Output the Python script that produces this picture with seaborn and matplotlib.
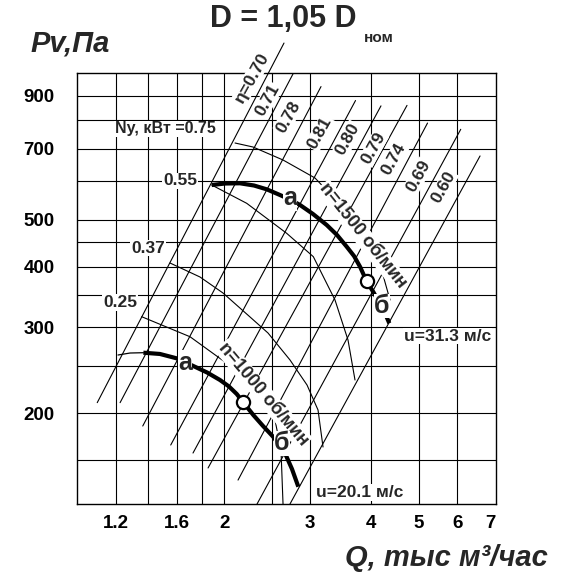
import matplotlib
matplotlib.use("Agg")
import matplotlib.pyplot as plt
from matplotlib.ticker import NullLocator, FixedLocator, FixedFormatter
import seaborn as sns

# ---------------- data ----------------
# fan curve n = 1500 rpm  (Q, thousand m3/h ; Pv, Pa)
q_1500 = [1.886, 2.008, 2.155, 2.302, 2.444, 2.602, 2.727, 2.859, 3.039, 3.242, 3.403,
          3.562, 3.687, 3.793, 3.914, 4.038, 4.167, 4.267, 4.354]
p_1500 = [589.1, 593.3, 593.9, 587.7, 577.2, 561.8, 550.0, 535.9, 513.5, 487.4, 464.9,
          439.8, 420.8, 400.0, 373.0, 354.9, 335.3, 320.8, 306.0]
# fan curve n = 1000 rpm (thin unstable start, then working part)
q_1000_thin = [1.213, 1.284, 1.367]
p_1000_thin = [263.3, 265.8, 266.2]
q_1000 = [1.367, 1.478, 1.599, 1.730, 1.845, 1.961, 2.046, 2.122, 2.186, 2.294, 2.402,
          2.521, 2.602, 2.664, 2.753, 2.836]
p_1000 = [266.2, 264.6, 259.2, 249.9, 242.4, 233.9, 226.8, 218.9, 210.7, 198.2, 188.1,
          178.6, 171.1, 165.3, 153.4, 141.1]
# optimum points (circles)
opt_q = [3.914, 2.186]
opt_p = [373.0, 210.7]

# efficiency rays: top end and bottom end
eta_labels = ["η=0.70", "0.71", "0.78", "0.81", "0.80", "0.79", "0.74", "0.69", "0.60"]
eta_q_top = [2.651, 2.766, 3.156, 3.713, 4.186, 4.732, 5.212, 6.095, 6.675]
eta_p_top = [1154, 997, 939, 879, 857, 859, 790, 767, 676]
eta_q_bot = [1.100, 1.225, 1.363, 1.555, 1.727, 1.854, 2.135, 2.335, 2.727]
eta_p_bot = [210.1, 210.1, 188.1, 171.9, 165.5, 154.2, 145.6, 130.0, 130.0]
eta_lab_q = [2.277, 2.451, 2.706, 3.141, 3.584, 4.038, 4.451, 4.991, 5.615]
eta_lab_p = [976.6, 881.2, 814.1, 753.7, 732.6, 700.9, 665.4, 614.8, 582.7]

# power arcs Ny, kW
ny_labels = ["Ny, кВт =0.75", "0.55", "0.37", "0.25"]
ny_lab_q = [1.514, 1.625, 1.397, 1.225]
ny_lab_p = [768.1, 600.4, 437.1, 337.3]
ny_q = [
    [2.105, 2.291, 2.639, 3.068, 3.618, 3.975, 4.226, 4.368],
    [1.886, 2.224, 2.685, 3.044, 3.371, 3.584, 3.704],
    [1.550, 1.785, 1.989, 2.259, 2.459, 2.727, 2.955, 3.112, 3.186],
    [1.356, 1.703, 2.024, 2.368, 2.541, 2.614, 2.639],
]
ny_p = [
    [718.8, 705.3, 663.2, 609.0, 511.1, 447.6, 384.6, 341.7],
    [589.1, 540.2, 468.6, 419.5, 341.7, 282.7, 233.9],
    [407.1, 381.0, 353.2, 315.3, 292.2, 257.2, 228.4, 202.9, 170.3],
    [315.7, 287.1, 253.2, 216.1, 193.5, 167.9, 130.0],
]

# axes ticks / grid
x_ticks = [1.2, 1.6, 2, 3, 4, 5, 6, 7]
x_tick_labels = ["1.2", "1.6", "2", "3", "4", "5", "6", "7"]
y_ticks = [200, 300, 400, 500, 700, 900]
y_tick_labels = ["200", "300", "400", "500", "700", "900"]
x_grid = [1.2, 1.4, 1.6, 1.8, 2, 2.5, 3, 4, 5, 6]
y_grid = [160, 200, 250, 300, 350, 400, 450, 500, 600, 700, 800, 900]

# text annotations
curve_labels = ["n=1500 об/мин", "n=1000 об/мин"]
curve_lab_q = [3.836, 2.406]
curve_lab_p = [462.9, 218.7]
curve_lab_rot = [-51.4, -49.7]
ab_labels = ["а", "б", "а", "б"]
ab_q = [2.727, 4.20, 1.663, 2.623]
ab_p = [553.1, 332.1, 253.9, 173.3]
u_labels = ["u=31.3 м/с", "u=20.1 м/с"]
u_q = [5.727, 3.793]
u_p = [288.1, 137.1]

# ---------------- drawing ----------------
sns.set_theme(style="white")
plt.rcParams["font.family"] = ["Liberation Sans", "DejaVu Sans"]

fig = plt.figure(figsize=(5.72, 5.81), dpi=100)
ax = fig.add_axes([77 / 572, 77 / 581, 419 / 572, 430.7 / 581])
ax.set_xscale("log")
ax.set_yscale("log")
ax.set_xlim(1.0, 7.196)
ax.set_ylim(130, 1000)

for v in x_grid:
    ax.axvline(v, color="black", lw=0.8, zorder=1)
for v in y_grid:
    ax.axhline(v, color="black", lw=0.8, zorder=1)

# efficiency rays
for qt, pt, qb, pb in zip(eta_q_top, eta_p_top, eta_q_bot, eta_p_bot):
    sns.lineplot(x=[qb, qt], y=[pb, pt], ax=ax, color="black", lw=0.8,
                 estimator=None, sort=False, clip_on=False, zorder=2)

# power arcs
for qs, ps in zip(ny_q, ny_p):
    sns.lineplot(x=qs, y=ps, ax=ax, color="black", lw=0.8,
                 estimator=None, sort=False, zorder=2)

# fan curves
sns.lineplot(x=q_1500, y=p_1500, ax=ax, color="black", lw=3.0,
             estimator=None, sort=False, zorder=4, solid_capstyle="butt",
             solid_joinstyle="round")
sns.lineplot(x=q_1000_thin, y=p_1000_thin, ax=ax, color="black", lw=0.9,
             estimator=None, sort=False, zorder=4)
sns.lineplot(x=q_1000, y=p_1000, ax=ax, color="black", lw=3.0,
             estimator=None, sort=False, zorder=4, solid_capstyle="butt",
             solid_joinstyle="round")
ax.plot(opt_q, opt_p, "o", ms=9.5, mfc="white", mec="black", mew=1.6, zorder=6)

wb = dict(facecolor="white", edgecolor="none", pad=0.6)

for s, q, p in zip(eta_labels, eta_lab_q, eta_lab_p):
    ax.text(q, p, s, rotation=61, ha="center", va="center", fontsize=12.5,
            fontweight="bold", bbox=wb, zorder=3, rotation_mode="anchor")
for i, (s, q, p) in enumerate(zip(ny_labels, ny_lab_q, ny_lab_p)):
    ax.text(q, p, s, ha="center", va="center", fontsize=11.5 if i == 0 else 12.5,
            fontweight="bold", bbox=wb, zorder=3)
for s, q, p, r in zip(curve_labels, curve_lab_q, curve_lab_p, curve_lab_rot):
    ax.text(q, p, s, rotation=r, ha="center", va="center", fontsize=13,
            fontweight="bold", bbox=wb, zorder=3, rotation_mode="anchor")
for s, q, p in zip(ab_labels, ab_q, ab_p):
    ax.text(q, p, s, ha="center", va="center", fontsize=18,
            fontweight="bold", bbox=dict(facecolor="white", edgecolor="none", pad=0.2), zorder=5)
for s, q, p in zip(u_labels, u_q, u_p):
    ax.text(q, p, s, ha="center", va="center", fontsize=12.5,
            fontweight="bold", bbox=wb, zorder=3)

ax.xaxis.set_minor_locator(NullLocator())
ax.yaxis.set_minor_locator(NullLocator())
ax.xaxis.set_major_locator(FixedLocator(x_ticks))
ax.xaxis.set_major_formatter(FixedFormatter(x_tick_labels))
ax.yaxis.set_major_locator(FixedLocator(y_ticks))
ax.yaxis.set_major_formatter(FixedFormatter(y_tick_labels))
ax.tick_params(axis="both", length=0, labelsize=13.5, colors="black")
ax.tick_params(axis="y", pad=16)
ax.tick_params(axis="x", pad=8)
for lab in ax.get_xticklabels() + ax.get_yticklabels():
    lab.set_fontweight("bold")
ax.set_xlabel("")
ax.set_ylabel("")
for sp in ax.spines.values():
    sp.set_color("black")
    sp.set_linewidth(1.0)
ax.grid(False)

fig.text(70 / 572, 1 - 44 / 581, "Pv,Па", fontsize=21, fontweight="bold",
         fontstyle="italic", ha="center", va="center")
fig.text(446 / 572, 1 - 558 / 581, "Q, тыс м³/час", fontsize=21, fontweight="bold",
         fontstyle="italic", ha="center", va="center")
fig.text(210 / 572, 1 - 19 / 581, "D = 1,05 D", fontsize=22, fontweight="bold",
         ha="left", va="center")
fig.text(364 / 572, 1 - 38 / 581, "ном", fontsize=11, fontweight="bold",
         ha="left", va="center")

fig.savefig("out.png", dpi=100, facecolor="white")
